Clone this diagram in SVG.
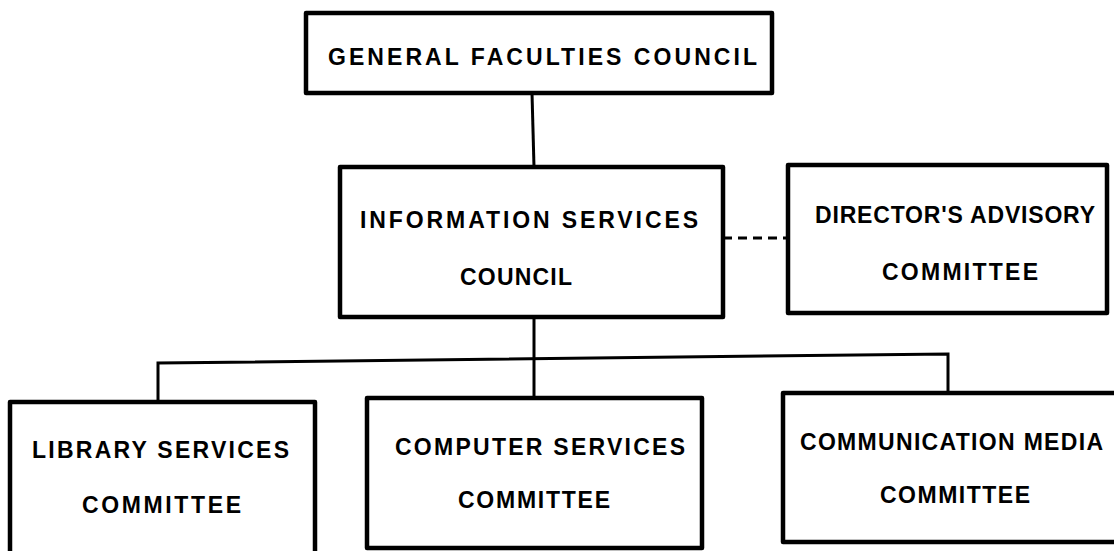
<svg xmlns="http://www.w3.org/2000/svg" width="1114" height="551" viewBox="0 0 1114 551">
  <style>
    .box { fill: #fff; stroke: #000; stroke-width: 4.5; stroke-linejoin: round; }
    .wire { fill: none; stroke: #000; stroke-width: 3; }
    .dash { stroke-dasharray: 9 6; }
    .lbl { font-family: "Liberation Sans", Arial, sans-serif; font-weight: bold; font-size: 23px; fill: #000; }
  </style>
  <rect width="1114" height="551" fill="#fff"/>

  <!-- connectors -->
  <g id="connectors">
    <line class="wire" x1="532" y1="93" x2="534" y2="167"/>
    <line class="wire" x1="534" y1="317" x2="534" y2="398"/>
    <polyline class="wire" points="158,402 158,363 948,354 948,393"/>
    <line class="wire dash" x1="723" y1="238" x2="788" y2="238"/>
  </g>

  <g id="general-faculties-council">
    <rect class="box" x="306" y="13" width="466" height="80"/>
    <text class="lbl" x="328" y="65" textLength="429" lengthAdjust="spacing">GENERAL  FACULTIES  COUNCIL</text>
  </g>

  <g id="information-services-council">
    <rect class="box" x="340" y="167" width="383" height="150"/>
    <text class="lbl" x="360" y="228" textLength="338" lengthAdjust="spacing">INFORMATION  SERVICES</text>
    <text class="lbl" x="460" y="285" textLength="112" lengthAdjust="spacing">COUNCIL</text>
  </g>

  <g id="directors-advisory-committee">
    <rect class="box" x="788" y="165" width="319" height="148"/>
    <text class="lbl" x="815" y="223" textLength="280" lengthAdjust="spacing">DIRECTOR'S  ADVISORY</text>
    <text class="lbl" x="882" y="280" textLength="156" lengthAdjust="spacing">COMMITTEE</text>
  </g>

  <g id="library-services-committee">
    <rect class="box" x="10" y="402" width="305" height="170"/>
    <text class="lbl" x="32" y="458" textLength="257" lengthAdjust="spacing">LIBRARY  SERVICES</text>
    <text class="lbl" x="82" y="513" textLength="159" lengthAdjust="spacing">COMMITTEE</text>
  </g>

  <g id="computer-services-committee">
    <rect class="box" x="367" y="398" width="335" height="150"/>
    <text class="lbl" x="395" y="455" textLength="290" lengthAdjust="spacing">COMPUTER  SERVICES</text>
    <text class="lbl" x="458" y="508" textLength="152" lengthAdjust="spacing">COMMITTEE</text>
  </g>

  <g id="communication-media-committee">
    <rect class="box" x="783" y="393" width="350" height="149"/>
    <text class="lbl" x="800" y="450" textLength="303" lengthAdjust="spacing">COMMUNICATION  MEDIA</text>
    <text class="lbl" x="880" y="503" textLength="150" lengthAdjust="spacing">COMMITTEE</text>
  </g>
</svg>
